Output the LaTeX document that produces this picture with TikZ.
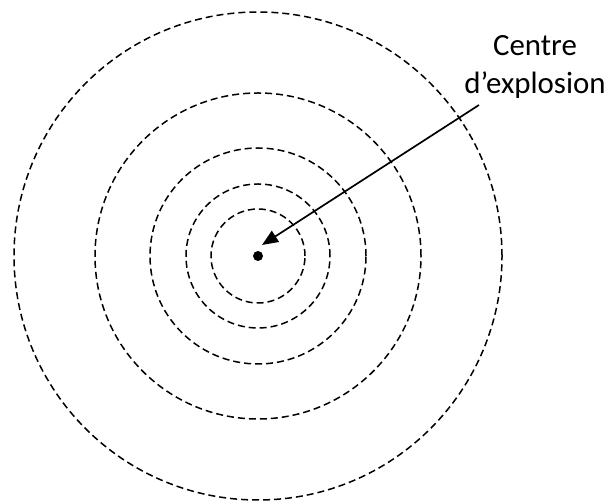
\documentclass[tikz,border=0pt]{standalone}
\usepackage{fontspec}
\setmainfont{Carlito}
\usepackage{tikz}
\usetikzlibrary{positioning,calc,arrows.meta}

\begin{document}
\begin{tikzpicture}[x=1bp, y=1bp,
  ring/.style={draw=black, dashed, dash pattern=on 7bp off 4bp, line width=1.5bp},
  arrow/.style={-{Triangle[length=16bp, width=13bp]}, line width=1.7bp, color=black},
  caption/.style={align=center, inner sep=0pt, font=\fontsize{31}{39}\selectfont}
]
  \useasboundingbox (0,0) rectangle (612,501);

  % Centre and rings
  \coordinate (centre) at (258,245);
  \draw[ring] (centre) circle[radius=244];
  \draw[ring] (centre) circle[radius=163];
  \draw[ring] (centre) circle[radius=108];
  \draw[ring] (centre) circle[radius=72];
  \draw[ring] (centre) circle[radius=47];
  \fill (centre) circle[radius=5];

  % Label
  \node[caption] (label) at (535,434) {Centre\\d’explosion};
  \coordinate (start) at (479,396);
  \coordinate (tip) at (262,256);

  % Connection
  \draw[arrow] (start) -- (tip);

\end{tikzpicture}
\end{document}
